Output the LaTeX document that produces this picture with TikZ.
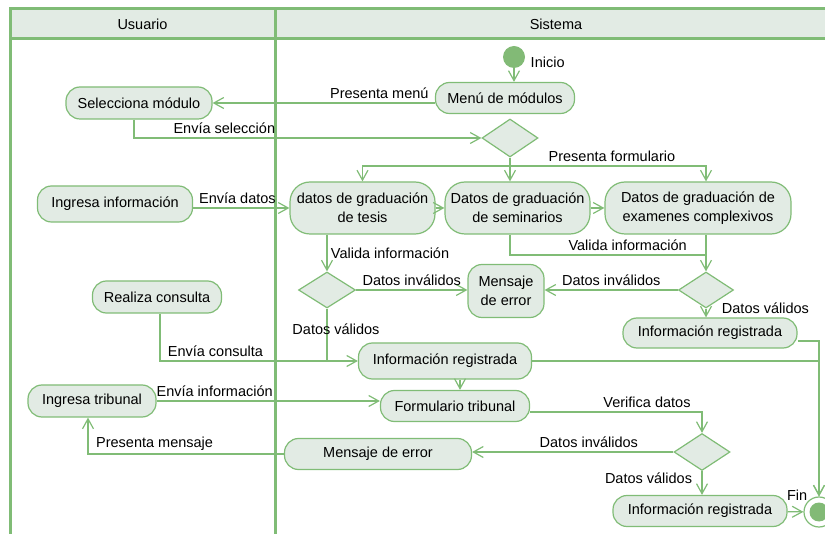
\documentclass[tikz,border=0pt]{standalone}
\usepackage{fontspec}
\setmainfont{Liberation Sans}
\usetikzlibrary{arrows.meta,shapes.geometric,positioning}
\definecolor{lanegreen}{RGB}{128,188,118}
\definecolor{actfill}{RGB}{226,235,228}
\definecolor{startfill}{RGB}{130,186,118}

\begin{document}
\begin{tikzpicture}[x=1pt,y=-1pt,font=\fontsize{14.5}{19}\selectfont,
	act/.style={draw=lanegreen,fill=actfill,line width=1.2pt,rounded corners=14pt,align=center,inner sep=2pt},
	dec/.style={draw=lanegreen,fill=actfill,line width=1.2pt,diamond,inner sep=0pt},
	flow/.style={draw=lanegreen,line width=1.2pt,-{Straight Barb[length=10pt,width=11pt]}},
	wire/.style={draw=lanegreen,line width=1.2pt},
	lane/.style={draw=lanegreen,line width=3pt}]
	\useasboundingbox (0,0) rectangle (825,534);
	\begin{scope}
		\clip (0,0) rectangle (825,534);
		\filldraw[lane,fill=actfill] (10,9) rectangle (837,39);
		\draw[lane] (10,39) -- (10,560) (275,9) -- (275,560) (837,39) -- (837,560);
	\end{scope}
	\node (usuario) at (142.5,24) {Usuario};
	\node (sistema) at (556,24) {Sistema};

	\node[circle,fill=startfill,minimum size=22pt,inner sep=0pt,label={[label distance=2pt,yshift=-5pt]right:Inicio}] (inicio) at (514,57) {};
	\node[act,minimum width=139pt,minimum height=31pt] (menu) at (505,98) {Menú de módulos};
	\node[act,minimum width=146pt,minimum height=32pt] (selmod) at (139,103) {Selecciona módulo};
	\node[dec,minimum width=56pt,minimum height=38pt] (dec1) at (510,138) {};
	\node[act,rounded corners=20pt,minimum width=145pt,minimum height=52pt] (tesis) at (362.5,208) {datos de graduación\\de tesis};
	\node[act,rounded corners=20pt,minimum width=145pt,minimum height=52pt] (semin) at (517.5,208) {Datos de graduación\\de seminarios};
	\node[act,rounded corners=20pt,minimum width=186pt,minimum height=52pt] (exam) at (698,208) {Datos de graduación de\\examenes complexivos};
	\node[act,minimum width=155pt,minimum height=36pt] (ingresa) at (115,204) {Ingresa información};
	\node[dec,minimum width=57pt,minimum height=36pt] (dec2) at (327,290) {};
	\node[act,minimum width=76pt,minimum height=53pt] (error1) at (506,291) {Mensaje\\de error};
	\node[dec,minimum width=55pt,minimum height=36pt] (dec3) at (706,290) {};
	\node[act,minimum width=174pt,minimum height=30pt] (regA) at (710,333) {Información registrada};
	\node[act,minimum width=129pt,minimum height=32pt] (consulta) at (157,297) {Realiza consulta};
	\node[act,minimum width=173pt,minimum height=36pt] (regB) at (445,361) {Información registrada};
	\node[act,minimum width=149pt,minimum height=31pt] (form) at (455,406) {Formulario tribunal};
	\node[act,minimum width=128pt,minimum height=32pt] (tribunal) at (92,401) {Ingresa tribunal};
	\node[dec,minimum width=56pt,minimum height=37pt] (dec4) at (702,452) {};
	\node[act,minimum width=187pt,minimum height=31pt] (error2) at (378,454) {Mensaje de error};
	\node[act,minimum width=174pt,minimum height=31pt] (regC) at (700,511) {Información registrada};
	\node[circle,draw=lanegreen,fill=white,line width=1.2pt,minimum size=30pt,inner sep=0pt,
		path picture={\fill[startfill] (path picture bounding box.center) circle (9.5pt);},
		label={[label distance=-4pt]above left:Fin}] (fin) at (819,512) {};
	\coordinate (split) at (510,166);
	\coordinate (join) at (706,255);

	\draw[flow] (inicio) -- (inicio |- menu.north);
	\draw[flow] (menu.west |- selmod) -- node[above,pos=0.25] {Presenta menú} (selmod.east);
	\draw[flow] ([xshift=-5pt]selmod.south) |- node[above,pos=0.63] {Envía selección} (dec1.west);
	\draw[flow] (dec1.south) -- (semin.north -| dec1);
	\draw[flow] (split) -| (tesis.north);
	\draw[flow] (split) -| node[above,pos=0.26] {Presenta formulario} ([xshift=8pt]exam.north);
	\draw[flow] (ingresa.east |- tesis) -- node[above,pos=0.46] {Envía datos} (tesis.west);
	\draw[flow] (tesis) -- (semin);
	\draw[flow] (semin) -- (exam);
	\draw[flow] (tesis.south -| dec2) -- node[right] {Valida información} (dec2.north);
	\draw[flow] (dec2.east) -- node[above] {Datos inválidos} (error1.west |- dec2);
	\draw[wire] (semin.south -| split) |- node[above,pos=0.8] {Valida información} (join);
	\draw[flow] (exam.south -| join) -- (dec3.north);
	\draw[flow] (dec3.west) -- node[above] {Datos inválidos} (error1.east |- dec3);
	\draw[flow] (dec3.south) -- node[right,xshift=12pt,pos=0] {Datos válidos} (regA.north -| dec3);
	\draw[flow] ([yshift=-8pt]regA.east) -| (fin.north);
	\draw[flow] ([xshift=3pt]consulta.south) |- node[above,pos=0.64] {Envía consulta} (regB.west);
	\draw[wire] (dec2.south) -- node[pos=0.4,xshift=9pt] {Datos válidos} (dec2.south |- regB.west);
	\draw[flow] (regB.east) -| (fin.north);
	\draw[flow] ([xshift=15pt]regB.south) -- ([xshift=5pt]form.north);
	\draw[flow] (tribunal.east) -- node[above,pos=0.26] {Envía información} (form.west |- tribunal);
	\draw[flow] ([yshift=-6pt]form.east) -| node[above,pos=0.34] {Verifica datos} (dec4.north);
	\draw[flow] (dec4.west) -- node[above,pos=0.42] {Datos inválidos} (error2.east |- dec4);
	\draw[flow] (error2.west) -| node[above,pos=0.33] {Presenta mensaje} ([xshift=-4pt]tribunal.south);
	\draw[flow] (dec4.south) -- node[left,pos=0.3,xshift=-6pt] {Datos válidos} (regC.north -| dec4);
	\draw[flow] (regC) -- (fin);
\end{tikzpicture}
\end{document}
